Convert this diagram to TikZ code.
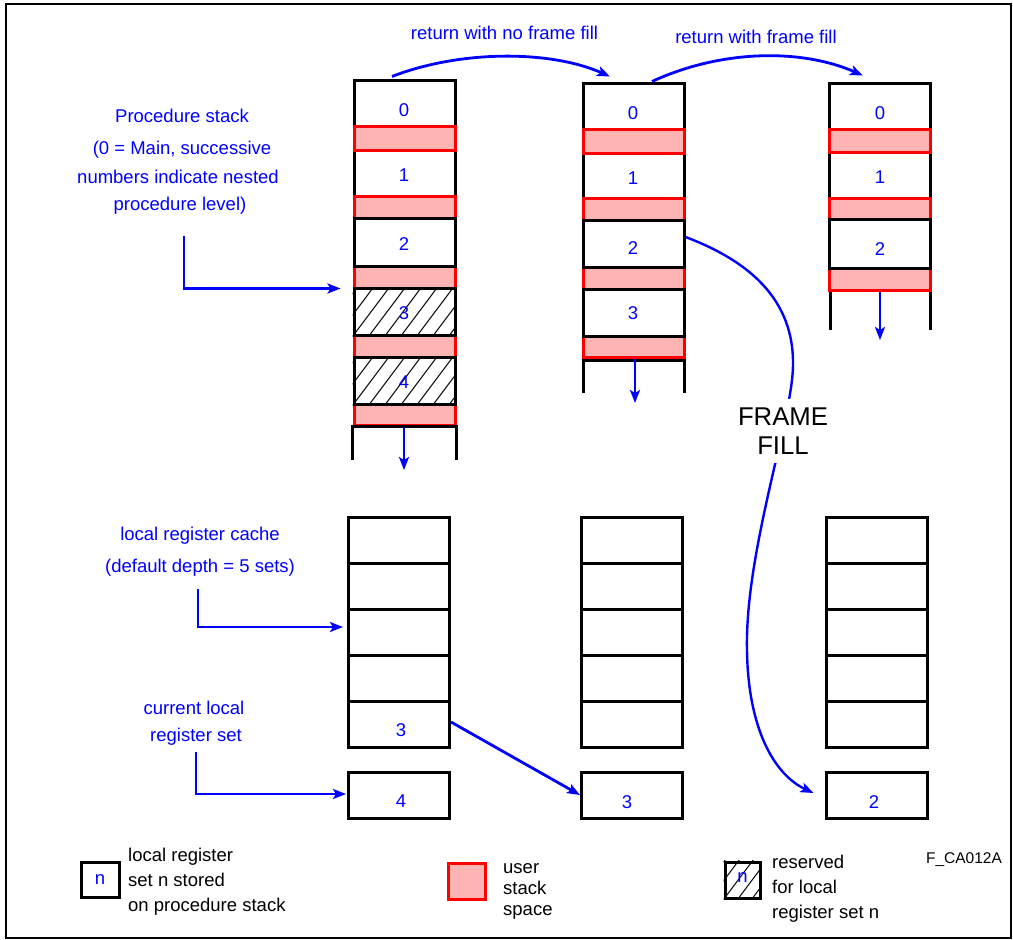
\documentclass[tikz,border=0pt]{standalone}
\usepackage{fontspec}
\setmainfont{Liberation Sans}
\usetikzlibrary{arrows.meta,calc}
\definecolor{pinkfill}{RGB}{255,180,180}
\definecolor{myblue}{RGB}{0,0,255}
\definecolor{myred}{RGB}{255,0,0}
\newcommand{\myhatch}[3]{%
  \begin{scope}
    \clip (#1.south west) rectangle (#1.north east);
    \foreach \k in {-4,...,#3}
      \draw[line width=1pt] ($(#1.south west)+(\k*#2,0)$) -- ++(36,-48);
  \end{scope}}
\begin{document}
\begin{tikzpicture}[x=1pt,y=-1pt,
  every node/.style={font=\fontsize{18.5}{22}\selectfont, inner sep=0pt},
  cell/.style={draw=black, line width=3pt, fill=white, minimum width=101pt, inner sep=0pt},
  usp/.style={draw=myred, line width=3pt, fill=pinkfill, minimum width=101pt, inner sep=0pt},
  stk/.style={draw=black, line width=3pt},
  dig/.style={text=myblue, text height=13.3pt, text depth=0pt},
  lbl/.style={text=myblue, text height=13.3pt, text depth=0pt},
  leg/.style={text=black, text height=13.3pt, text depth=0pt, anchor=west},
  arr/.style={draw=myblue, line width=2.8pt, -{Stealth[length=13pt,width=10pt,inset=3pt]}},
]
\useasboundingbox (0,0) rectangle (1013,940);
\draw[line width=2pt] (6,4) rectangle (1011,938);

% ---------- Stack A ----------
\node[cell,minimum height=46pt] (A0) at (404.5,103) {};
\node[cell,minimum height=46pt] (A1) at (404.5,173) {};
\node[usp,minimum height=24pt] (Ap0) at (404.5,138) {};
\node[usp,minimum height=22pt] (Ap1) at (404.5,207) {};
\node[usp,minimum height=22pt] (Ap2) at (404.5,277) {};
\node[usp,minimum height=22pt] (Ap3) at (404.5,346) {};
\node[usp,minimum height=21pt] (Ap4) at (404.5,414.5) {};
\node[cell,minimum height=48pt] (A2) at (404.5,242) {};
\node[cell,minimum height=47pt] (A3) at (404.5,311.5) {};
\node[cell,minimum height=47pt] (A4) at (404.5,380.5) {};
\myhatch{A3}{16}{8}
\myhatch{A4}{16}{8}
\draw[stk] ([yshift=-33pt]Ap4.south west) -- (Ap4.south west) -- (Ap4.south east) -- ++(0,33);
\node[dig] (tA0) at (404,110) {0};
\node[dig] (tA1) at (404,175) {1};
\node[dig] (tA2) at (404,244) {2};
\node[dig] (tA3) at (404,313) {3};
\node[dig] (tA4) at (404,382) {4};

% ---------- Stack B ----------
\node[cell,minimum height=46pt] (B0) at (633.5,106) {};
\node[cell,minimum height=45pt] (B1) at (633.5,175.5) {};
\node[usp,minimum height=24pt] (Bp0) at (633.5,141) {};
\node[usp,minimum height=22pt] (Bp1) at (633.5,209) {};
\node[usp,minimum height=22pt] (Bp2) at (633.5,278) {};
\node[usp,minimum height=21pt] (Bp3) at (633.5,346.5) {};
\node[cell,minimum height=47pt] (B2) at (633.5,243.5) {};
\node[cell,minimum height=47pt] (B3) at (633.5,312.5) {};
\draw[stk] (583,393) -- (583,360) -- (684,360) -- (684,393);
\node[dig] (tB0) at (633,113) {0};
\node[dig] (tB1) at (633,178) {1};
\node[dig] (tB2) at (633,248) {2};
\node[dig] (tB3) at (633,313) {3};

% ---------- Stack C ----------
\node[cell,minimum height=46pt] (C0) at (880,106) {};
\node[cell,minimum height=46pt] (C1) at (880,175) {};
\node[usp,minimum height=23pt] (Cp0) at (880,140.5) {};
\node[usp,minimum height=21pt] (Cp1) at (880,208.5) {};
\node[usp,minimum height=22pt] (Cp2) at (880,279) {};
\node[cell,minimum height=49pt] (C2) at (880,243.5) {};
\draw[stk] (830,291.5) -- ++(0,38.5);
\draw[stk] (930,291.5) -- ++(0,38.5);
\node[dig] (tC0) at (880,113) {0};
\node[dig] (tC1) at (880,177) {1};
\node[dig] (tC2) at (880,249) {2};

% ---------- Register caches ----------
\foreach \s/\x in {D/399,E/632,F/876.5}{
  \foreach \i/\y in {1/540,2/586,3/632,4/678,5/724}{
    \node[cell,minimum height=46pt] (\s\i) at (\x,\y) {};
  }
  \node[cell,minimum height=46pt] (\s6) at (\x,795) {};
}
\node[dig] (tD5) at (401,730) {3};
\node[dig] (tD6) at (401,801) {4};
\node[dig] (tE6) at (627,802) {3};
\node[dig] (tF6) at (874,802) {2};

% ---------- Labels ----------
\node[lbl] (lP1) at (182,116) {Procedure stack};
\node[lbl] (lP2) at (182,148) {(0 = Main, successive};
\node[lbl] (lP3) at (178,177) {numbers indicate nested};
\node[lbl] (lP4) at (180,204) {procedure level)};
\node[lbl] (lC1) at (200,534) {local register cache};
\node[lbl] (lC2) at (200,566) {(default depth = 5 sets)};
\node[lbl] (lR1) at (194,708) {current local};
\node[lbl] (lR2) at (196,735) {register set};
\node[lbl] (lT1) at (504.5,33) {return with no frame fill};
\node[lbl] (lT2) at (756,37) {return with frame fill};

% ---------- Connectors ----------
\draw[arr] ([xshift=-12.5pt,yshift=2pt]A0.north) .. controls (460,50) and (550,50) .. ([xshift=-23.5pt,yshift=5pt]B0.north);
\draw[arr] ([xshift=18.5pt]B0.north) .. controls (720,50) and (800,48) .. ([xshift=-17pt,yshift=6pt]C0.north);
\coordinate (Ad) at (404,470);
\coordinate (Bd) at (635,403);
\coordinate (Cd) at (880,340);
\draw[arr] (Ap4.south -| Ad) -- (Ad);
\draw[arr] (Bp3.south -| Bd) -- (Bd);
\draw[arr] (Cp2.south -| Cd) -- (Cd);
\coordinate (pS) at (184,236);
\coordinate (cS) at (198,589);
\coordinate (rS) at (196,752);
\draw[arr] (pS) |- ([xshift=-12pt,yshift=-2pt]A3.north west);
\draw[arr] (cS) |- ([xshift=-4pt,yshift=5pt]D3.west);
\draw[arr] (rS) |- ([xshift=-1pt,yshift=1pt]D6.west);
\draw[arr] ([yshift=2pt]D5.east) -- (E6.west);
\draw[arr, line width=2.4pt] ([yshift=6.5pt]B2.east) .. controls (760,265) and (800,310) .. (792,380)
   .. controls (785,440) and (745,560) .. (747,650)
   .. controls (748,730) and (775,775) .. ([xshift=-11pt,yshift=2pt]F6.west);
\node[fill=white, inner xsep=3pt, inner ysep=9pt, align=center,
      font=\fontsize{25.7}{29}\selectfont] (ff) at (783,431) {FRAME\\FILL};

% ---------- Legend ----------
\node[cell, minimum width=38pt, minimum height=35pt, text=myblue] (L1) at (100,879.5) {n};
\node[leg] (L1a) at (128,855) {local register};
\node[leg] (L1b) at (128,880) {set n stored};
\node[leg] (L1c) at (128,905) {on procedure stack};
\node[usp, minimum width=37pt, minimum height=36pt] (L2) at (466.5,881) {};
\node[leg] (L2a) at (503,867) {user};
\node[leg] (L2b) at (503,888) {stack};
\node[leg] (L2c) at (503,909) {space};
\node[cell, minimum width=35pt, minimum height=36pt] (L3) at (742.5,880) {};
\myhatch{L3}{14}{3}
\node[text=myblue] (L3n) at (742.5,878) {n};
\node[leg] (L3a) at (772,862) {reserved};
\node[leg] (L3b) at (772,887) {for local};
\node[leg] (L3c) at (772,912) {register set n};
\node[text=black, font=\fontsize{15.5}{18}\selectfont] (fid) at (964,860) {F\_CA012A};
\end{tikzpicture}
\end{document}
